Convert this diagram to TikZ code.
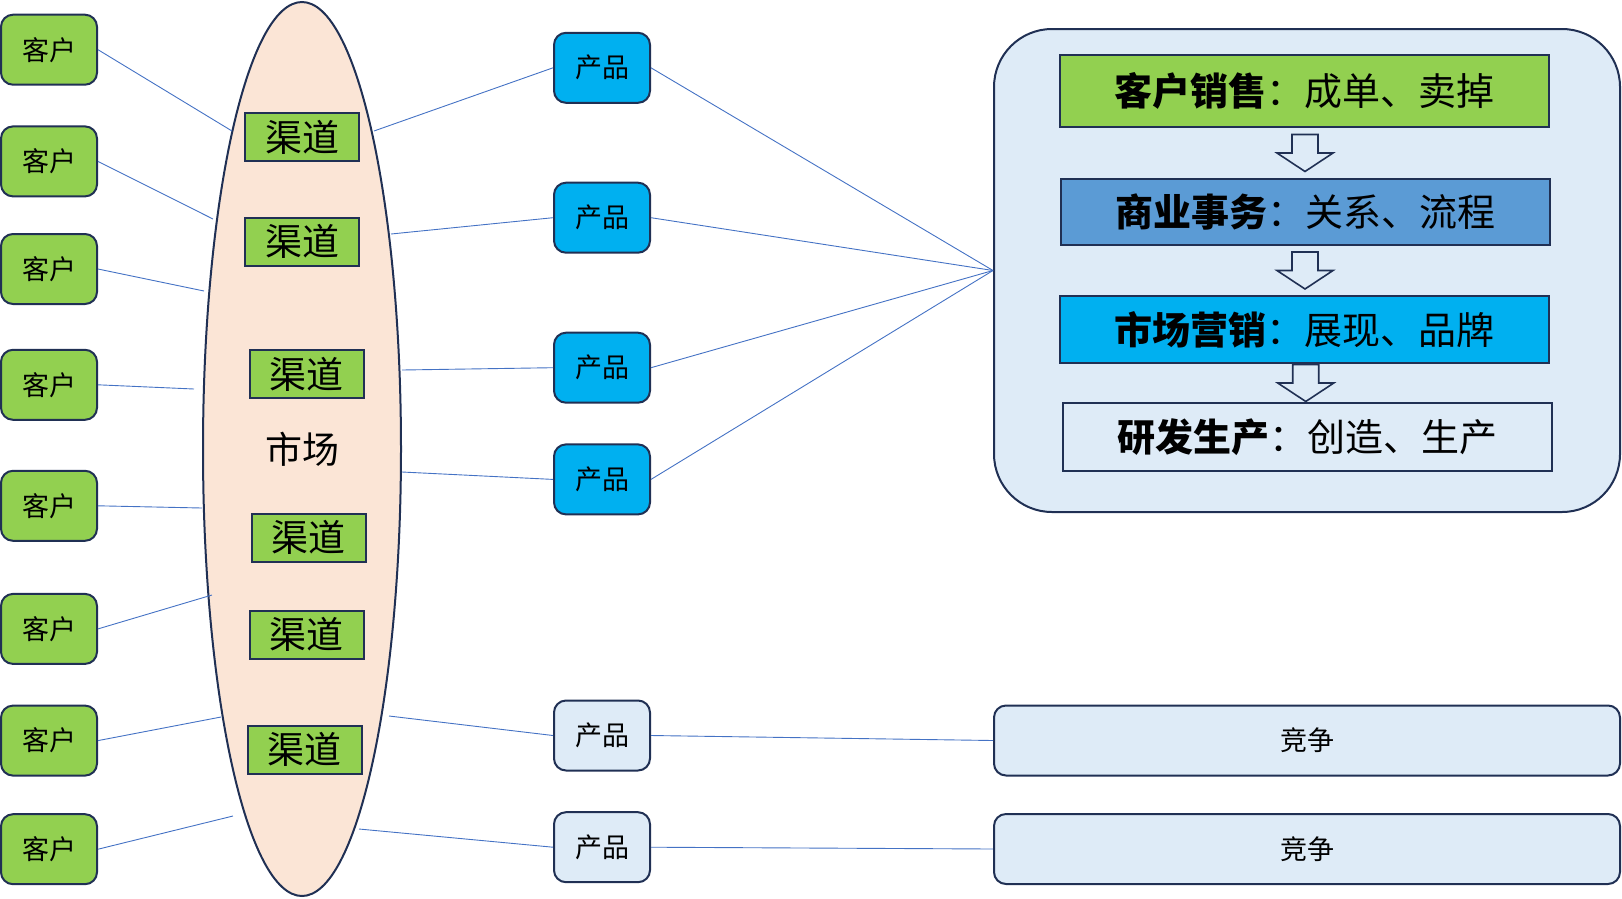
\documentclass[tikz,border=0pt]{standalone}
\usepackage{fontspec}
\setmainfont{Noto Sans CJK SC}
\usepackage{tikz}
\usetikzlibrary{calc, positioning, shapes.geometric}
\usepackage{xcolor}
\definecolor{kgreen}{RGB}{146, 208, 80}
\definecolor{kcyan}{RGB}{0, 176, 240}
\definecolor{kblue}{RGB}{91, 155, 213}
\definecolor{klight}{RGB}{222, 235, 247}
\definecolor{kpeach}{RGB}{251, 229, 214}
\definecolor{knavy}{RGB}{32, 48, 84}
\definecolor{kline}{RGB}{68, 114, 196}

\begin{document}
\begin{tikzpicture}[x=1pt, y=-1pt,
    kehu/.style={draw=knavy, line width=2pt, fill=kgreen, rounded corners=12pt,
        minimum width=96pt, minimum height=70pt, font=\fontsize{27}{30}\selectfont},
    qudao/.style={draw=knavy, line width=2pt, fill=kgreen,
        minimum width=114pt, minimum height=48pt, font=\fontsize{37}{40}\selectfont},
    chanpin/.style={kehu, fill=kcyan},
    jingzheng/.style={kehu, fill=klight, minimum width=626pt},
    stage/.style={draw=knavy, line width=2pt, minimum width=489pt, minimum height=67pt,
        font=\fontsize{38}{42}\selectfont},
    link/.style={kline, line width=0.9pt}]
    \useasboundingbox (0,0) rectangle (1622,898);

    % 市场
    \node[ellipse, draw=knavy, line width=2pt, fill=kpeach, minimum width=198pt,
        minimum height=894pt, font=\fontsize{37}{40}\selectfont] (Mkt) at (302,449) {市场};
    \node[qudao] (Q1) at (302,137) {渠道};
    \node[qudao] (Q2) at (302,241.5) {渠道};
    \node[qudao] (Q3) at (306.5,374) {渠道};
    \node[qudao] (Q4) at (308.5,537.5) {渠道};
    \node[qudao] (Q5) at (306.5,634.5) {渠道};
    \node[qudao] (Q6) at (304.5,749.5) {渠道};

    % 客户
    \foreach \i/\y in {1/49.7, 2/161.4, 3/269, 4/384.8, 5/505.8, 6/628.9, 7/740.6, 8/849.2}
        \node[kehu] (K\i) at (49,\y) {客户};

    % 产品
    \foreach \i/\y in {1/67.8, 2/217.7, 3/367.7, 4/479.4}
        \node[chanpin] (P\i) at (602,\y) {产品};
    \node[chanpin, fill=klight] (P5) at (602,735.5) {产品};
    \node[chanpin, fill=klight] (P6) at (602,847.2) {产品};

    % 右侧
    \node[draw=knavy, line width=2pt, fill=klight, rounded corners=58pt,
        minimum width=626pt, minimum height=483pt] (Big) at (1307,270.5) {};
    \node[stage, fill=kgreen, minimum height=72pt] (S1) at (1304.5,91) {\textbf{客户销售}：成单、卖掉};
    \node[stage, fill=kblue, minimum height=66pt] (S2) at (1305.5,212) {\textbf{商业事务}：关系、流程};
    \node[stage, fill=kcyan] (S3) at (1304.5,329.5) {\textbf{市场营销}：展现、品牌};
    \node[stage, fill=klight, minimum height=68pt] (S4) at (1307,437) {\textbf{研发生产}：创造、生产};
    \foreach \a/\b in {S1/S2, S2/S3, S3/S4} {
        \coordinate (ArrMid) at ($(\a.south)!0.5!(\b.north)$);
        \draw[knavy, line width=1.6pt, fill=klight] ($(ArrMid)+(-13,-18.5)$) -- ($(ArrMid)+(-13,0)$)
            -- ($(ArrMid)+(-28,0)$) -- ($(ArrMid)+(0,18.5)$) -- ($(ArrMid)+(28,0)$)
            -- ($(ArrMid)+(13,0)$) -- ($(ArrMid)+(13,-18.5)$) -- cycle;
    }
    \node[jingzheng] (J1) at (1307,740.5) {竞争};
    \node[jingzheng] (J2) at (1307,849) {竞争};

    % 椭圆边上的端点
    \coordinate (KE1) at (232,131);  \coordinate (KE2) at (213,219);
    \coordinate (KE3) at (204,291);  \coordinate (KE4) at (194,389);
    \coordinate (KE5) at (202,508);  \coordinate (KE6) at (212,595);
    \coordinate (KE7) at (221,717);  \coordinate (KE8) at (233,816);
    \coordinate (PE1) at (374,131);  \coordinate (PE2) at (391,234);
    \coordinate (PE3) at (402,370);  \coordinate (PE4) at (402,472);
    \coordinate (PE5) at (389,716);  \coordinate (PE6) at (359,829);

    \foreach \i in {1,...,8}
        \draw[link] (K\i.east) -- (KE\i);
    \foreach \i in {1,...,6}
        \draw[link] (PE\i) -- (P\i.west);
    \foreach \i in {1,...,4}
        \draw[link] (P\i.east) -- (Big.west);
    \draw[link] (P5.east) -- (J1.west);
    \draw[link] (P6.east) -- (J2.west);
\end{tikzpicture}
\end{document}
